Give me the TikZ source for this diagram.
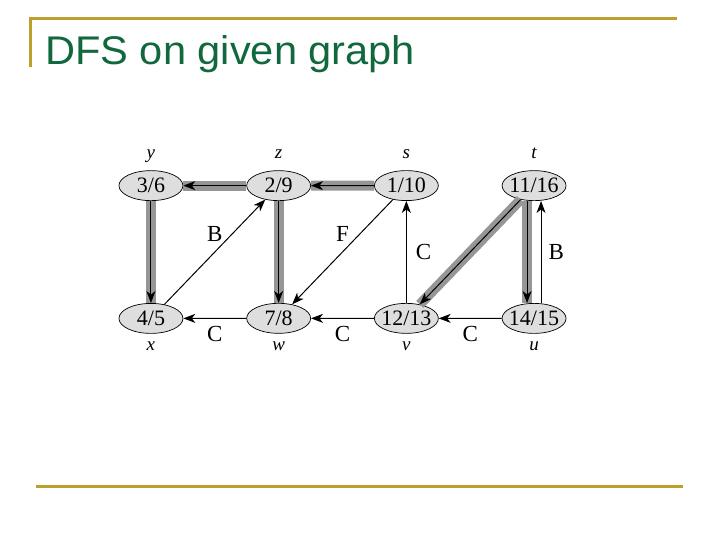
\documentclass[tikz,border=0pt]{standalone}
\usepackage{fontspec}
\setmainfont{Liberation Serif}
\newfontfamily\titlefont{Liberation Sans}
\usetikzlibrary{matrix,shapes.geometric,arrows.meta}

\definecolor{titlegreen}{RGB}{16,104,60}
\definecolor{rulegold}{RGB}{190,158,45}
\definecolor{treegray}{RGB}{150,150,150}
\definecolor{nodegray}{RGB}{222,222,222}

\begin{document}
\begin{tikzpicture}[x=1pt, y=-1pt,
        vert/.style={draw, ellipse, fill=nodegray, line width=0.7pt,
            minimum width=64pt, minimum height=30pt,
            inner xsep=-8pt, inner ysep=0pt,
            font=\fontsize{22}{22}\selectfont},
        lbl/.style={shape=rectangle, draw=none, fill=none,
            minimum width=0pt, minimum height=0pt,
            font=\fontsize{19}{19}\selectfont\itshape,
            inner sep=0pt, text height=9pt, text depth=4pt},
        label distance=7pt,
        edge/.style={->, line width=1pt},
        tree/.style={edge, preaction={draw=treegray, line width=10pt, -}},
        elab/.style={font=\fontsize{23}{23}\selectfont, inner sep=1pt},
        rule/.style={draw=rulegold, line width=3pt},
        >={Stealth[length=12pt,width=9pt,inset=3.5pt]} % Pfeilspitzen
        ]
            \useasboundingbox (0,0) rectangle (720,540);

            % Rahmen, Titel
            \draw[rule] (30,67) -- (30,19) -- (677,19);
            \draw[rule] (36,486) -- (683,486);
            \node[font=\titlefont\fontsize{40}{46}\selectfont, text=titlegreen,
                anchor=base west, inner sep=0pt, xscale=1.04] (title) at (45,65) {DFS on given graph};

            \matrix (G) [
                matrix of nodes,
                inner sep=0pt,
                column sep=63pt, row sep=102pt,
                nodes={vert}
            ] at (342.5,252)
            {
                |[label={[lbl]above:y}]| 3/6 & |[label={[lbl]above:z}]| 2/9 & |[label={[lbl]above:s}]| 1/10 & |[label={[lbl]above:t}]| 11/16 \\
                |[label={[lbl]below:x}]| 4/5 & |[label={[lbl]below:w}]| 7/8 & |[label={[lbl]below:v}]| 12/13 & |[label={[lbl]below:u}]| 14/15 \\
            };

            % Baumkanten
            \draw[tree] (G-1-2) -- (G-1-1);
            \draw[tree] (G-1-3) -- (G-1-2);
            \draw[tree] (G-1-1) -- (G-2-1);
            \draw[tree] (G-1-2) -- (G-2-2);
            \draw[tree] (G-1-4) -- (G-2-3);
            \draw[tree] ([xshift=-7pt]G-1-4.south) -- ([xshift=-7pt]G-2-4.north);

            % uebrige Kanten
            \draw[edge] (G-2-1) -- node[elab, above=9pt] {B} (G-1-2);
            \draw[edge] (G-1-3) -- node[elab, above=9pt] {F} (G-2-2);
            \draw[edge] (G-2-3) -- node[elab, right=8pt] {C} (G-1-3);
            \draw[edge] ([xshift=7pt]G-2-4.north) -- node[elab, right=6pt] {B} ([xshift=7pt]G-1-4.south);
            \draw[edge] (G-2-2) -- node[elab, below=6pt] {C} (G-2-1);
            \draw[edge] (G-2-3) -- node[elab, below=6pt] {C} (G-2-2);
            \draw[edge] (G-2-4) -- node[elab, below=6pt] {C} (G-2-3);

        \end{tikzpicture}
\end{document}
